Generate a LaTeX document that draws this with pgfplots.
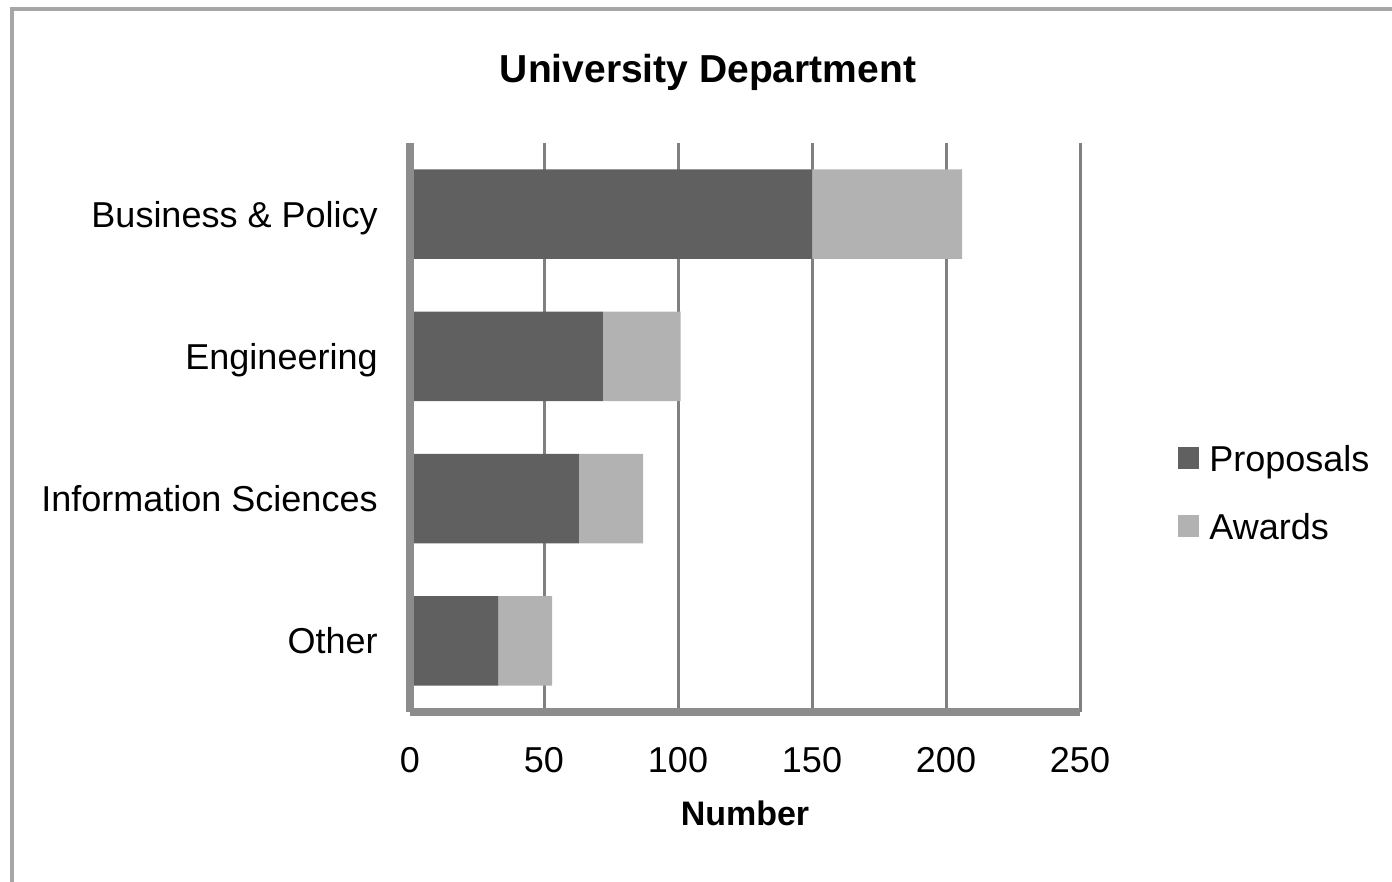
\documentclass[border=0pt]{standalone}
\usepackage{pgfplots}
\pgfplotsset{compat=1.18}
\usepackage{fontspec}
\setmainfont{Liberation Sans}
\definecolor{prop}{HTML}{606060}
\definecolor{awd}{HTML}{B2B2B2}
\definecolor{gridc}{HTML}{808080}
\definecolor{axc}{HTML}{8C8C8C}
\definecolor{framec}{HTML}{A6A6A6}
\begin{document}
\begin{tikzpicture}
\useasboundingbox (0,0) rectangle (696bp,441bp);
\draw[framec, line width=2bp] (6bp,-5bp) -- (6bp,436.5bp) -- (701bp,436.5bp);
\node[font=\bfseries\fontsize{19.5bp}{22bp}\selectfont, text depth=0pt, inner sep=0pt] at (354bp,407bp) {University Department};
\begin{axis}[
  name=ax,
  at={(205bp,85bp)}, anchor=south west,
  scale only axis, width=335bp, height=284.5bp,
  xbar stacked, bar width=0.63,
  xmin=0, xmax=250, ymin=-0.5, ymax=3.5,
  xtick={0,50,...,250}, ytick={0,1,2,3},
  yticklabels={Other, Information Sciences, Engineering, Business \& Policy},
  axis x line*=bottom, axis y line*=left,
  axis line style={-, draw=axc, line width=3.5bp},
  xmajorgrids, major grid style={draw=gridc, line width=1.5bp},
  major tick length=0pt, tick style={draw=none},
  /pgf/number format/assume math mode=true,
  ticklabel style={font=\fontsize{18bp}{20bp}\selectfont},
  xticklabel style={anchor=center, yshift=-24bp, inner sep=0pt, text depth=0pt},
  yticklabel style={anchor=east, inner sep=0pt, text depth=0pt, xshift=-16bp},
  xlabel={Number},
  xlabel style={font=\bfseries\fontsize{17bp}{19bp}\selectfont, at={(axis description cs:0.5,0)}, anchor=center, yshift=-50.5bp, inner sep=0pt, text depth=0pt},
  legend style={at={(rel axis cs:1.1463,0.386)}, anchor=west, draw=none, fill=none, inner sep=0pt,
    font=\fontsize{18bp}{20bp}\selectfont, row sep=21bp,
    nodes={inner sep=0pt, text depth=0pt},
    /tikz/every odd column/.append style={column sep=5bp}},
  legend cell align=left,
  legend image code/.code={\fill[#1] (0bp,-5.5bp) rectangle (10.5bp,5.5bp);},
]
\addplot[fill=prop, draw=none] coordinates {(33,0) (63,1) (72,2) (150,3)};
\addplot[fill=awd, draw=none] coordinates {(20,0) (24,1) (29,2) (56,3)};
\legend{Proposals, Awards}
\end{axis}
\draw[axc, line width=3.5bp] (ax.south west) -- (ax.north west);
\end{tikzpicture}
\end{document}
